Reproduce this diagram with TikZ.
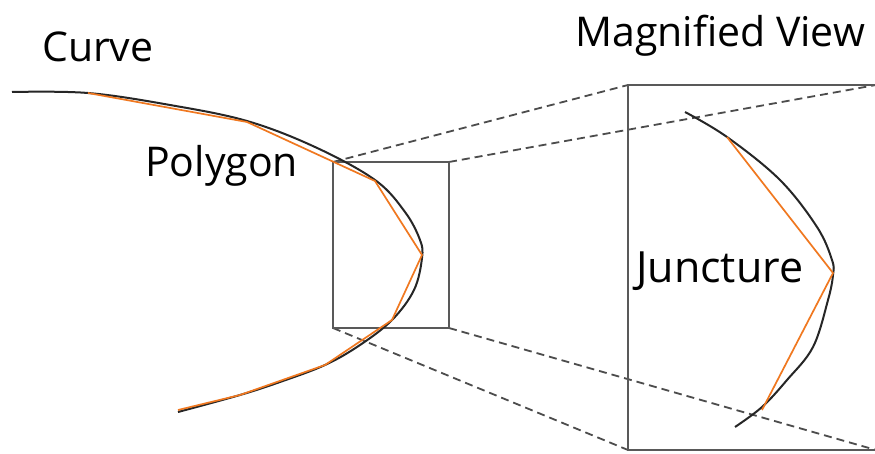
\documentclass[tikz,border=0pt]{standalone}
\usepackage{fontspec}
\setmainfont{Open Sans}
\begin{document}
\begin{tikzpicture}[x=1pt,y=-1pt,
  curveline/.style={line width=2pt, black!85, line join=round},
  polyline/.style={line width=1.7pt, color={rgb,255:red,240;green,120;blue,32}, line join=miter},
  frame/.style={line width=2pt, black!65},
  guide/.style={line width=1.8pt, black!70, dash pattern=on 8pt off 5pt},
  label/.style={inner sep=0pt, anchor=base west, font=\fontsize{41}{44}\selectfont}]
\useasboundingbox (0,0) rectangle (875,454);
\fill[white] (0,0) rectangle (875,454);

% corners of the small window and of the enlarged view
\coordinate (sTL) at (333,162);
\coordinate (sTR) at (449,162);
\coordinate (sBL) at (333,328);
\coordinate (sBR) at (449,328);
\coordinate (bTL) at (628,85);
\coordinate (bTR) at (876,85);
\coordinate (bBL) at (628,450);
\coordinate (bBR) at (876,450);

% projection lines
\draw[guide] (sTL) -- (bTL);
\draw[guide] (sTR) -- (bTR);
\draw[guide] (sBL) -- (bBL);
\draw[guide] (sBR) -- (bBR);

% frames
\draw[frame] (sTL) rectangle (sBR);
\draw[frame] (bTR) -- (bTL) -- (bBL) -- (bBR);

% curve and its polygon approximation
\draw[curveline] plot[smooth, tension=0.6] coordinates {
  (12,92) (88,93) (170,105) (247,121) (315,147) (375,180) (405,212)
  (420,240) (422,258) (414,290) (392,320) (360,345) (325,365)
  (280,382) (240,395) (178,412)};
\draw[polyline] (88,93) -- (247,122) -- (375,181) -- (422,255)
  -- (392,320) -- (325,365) -- (240,395) -- (178,410);

% enlarged curve and chords
\draw[curveline] plot[smooth, tension=0.6] coordinates {
  (685,112) (727,137) (780,180) (817,227) (832,260) (833,275)
  (828,300) (813,347) (787,380) (762,407) (735,427)};
\draw[polyline] (727,137) -- (833,273) -- (762,410);

% labels
\node[label] (curve) at (42,62) {Curve};
\node[label] (magview) at (575,47) {Magnified View};
\node[label] (polygon) at (145,177) {Polygon};
\node[label, font=\fontsize{43}{46}\selectfont] (juncture) at (636,283) {Juncture};
\end{tikzpicture}
\end{document}
